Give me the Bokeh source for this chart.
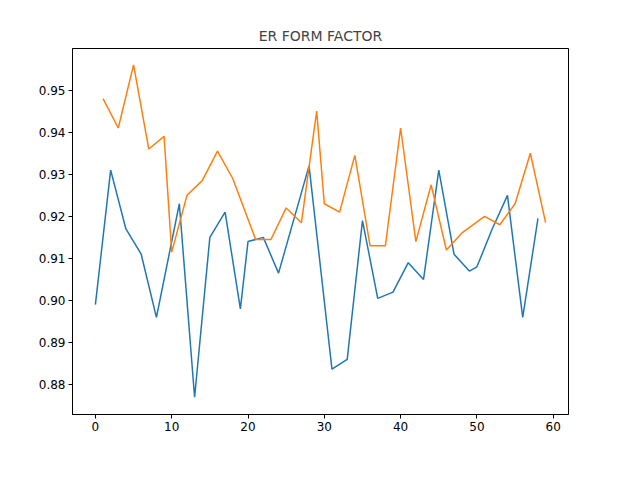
from bokeh.plotting import figure
from bokeh.models import Legend, LegendItem, FixedTicker, NumeralTickFormatter, Range1d
from bokeh.embed import file_html
from bokeh.resources import INLINE

na_x = [0,2,4,6,8,11,13,15,17,19,20,22,24,28,31,33,35,37,39,41,43,45,47,49,50,52,54,56,58]
na_y = [0.899,0.931,0.917,0.911,0.896,0.923,0.877,0.915,0.921,0.898,0.914,0.915,0.9065,0.932,
        0.8837,0.886,0.919,0.9005,0.902,0.909,0.905,0.931,0.911,0.907,0.908,0.917,0.925,0.896,0.9195]
sa_x = [1,3,5,7,9,10,12,14,16,18,21,23,25,27,29,30,32,34,36,38,40,42,44,46,48,51,53,55,57,59]
sa_y = [0.948,0.941,0.956,0.936,0.939,0.9115,0.925,0.9285,0.9355,0.929,0.9145,0.9145,0.922,0.9185,
        0.945,0.923,0.921,0.9345,0.913,0.913,0.941,0.914,0.9275,0.912,0.916,0.920,0.918,0.923,0.935,0.9185]

p = figure(frame_width=496, frame_height=366, output_backend="svg", toolbar_location=None,
           title="ER FORM FACTOR", x_range=Range1d(-3, 62), y_range=Range1d(0.8729, 0.9599),
           min_border_left=72, min_border_top=48, min_border_right=56, min_border_bottom=0)
p.title.align = "center"
p.title.text_font = "DejaVu Sans"
p.title.text_font_size = "14px"
p.title.text_font_style = "normal"
l1 = p.line(na_x, na_y, line_color="#1f77b4", line_width=1.5)
l2 = p.line(sa_x, sa_y, line_color="#ff7f0e", line_width=1.5)
p.xgrid.visible = False
p.ygrid.visible = False
p.xaxis.ticker = FixedTicker(ticks=[0,10,20,30,40,50,60])
p.yaxis.ticker = FixedTicker(ticks=[0.88,0.89,0.90,0.91,0.92,0.93,0.94,0.95])
p.yaxis.formatter = NumeralTickFormatter(format="0.00")
for ax in (p.xaxis[0], p.yaxis[0]):
    ax.major_label_text_font = "DejaVu Sans"
    ax.major_label_text_font_size = "12px"
    ax.major_label_text_color = "black"
    ax.minor_tick_line_color = None
    ax.major_tick_in = 0
    ax.major_tick_out = 4
    ax.major_label_standoff = 3
    ax.axis_line_color = "black"
p.outline_line_color = "black"
p.outline_line_alpha = 1
leg = Legend(items=[LegendItem(label="NA0251_6", renderers=[l1]), LegendItem(label="SA0093_6", renderers=[l2])],
             orientation="horizontal", location="center", label_text_font="DejaVu Sans",
             label_text_font_size="12px", border_line_color="#999999", spacing=30,
             margin=4, padding=2, glyph_width=30, glyph_height=14, label_height=14)
p.add_layout(leg, "below")
open("out.html", "w").write(file_html(p, INLINE))
